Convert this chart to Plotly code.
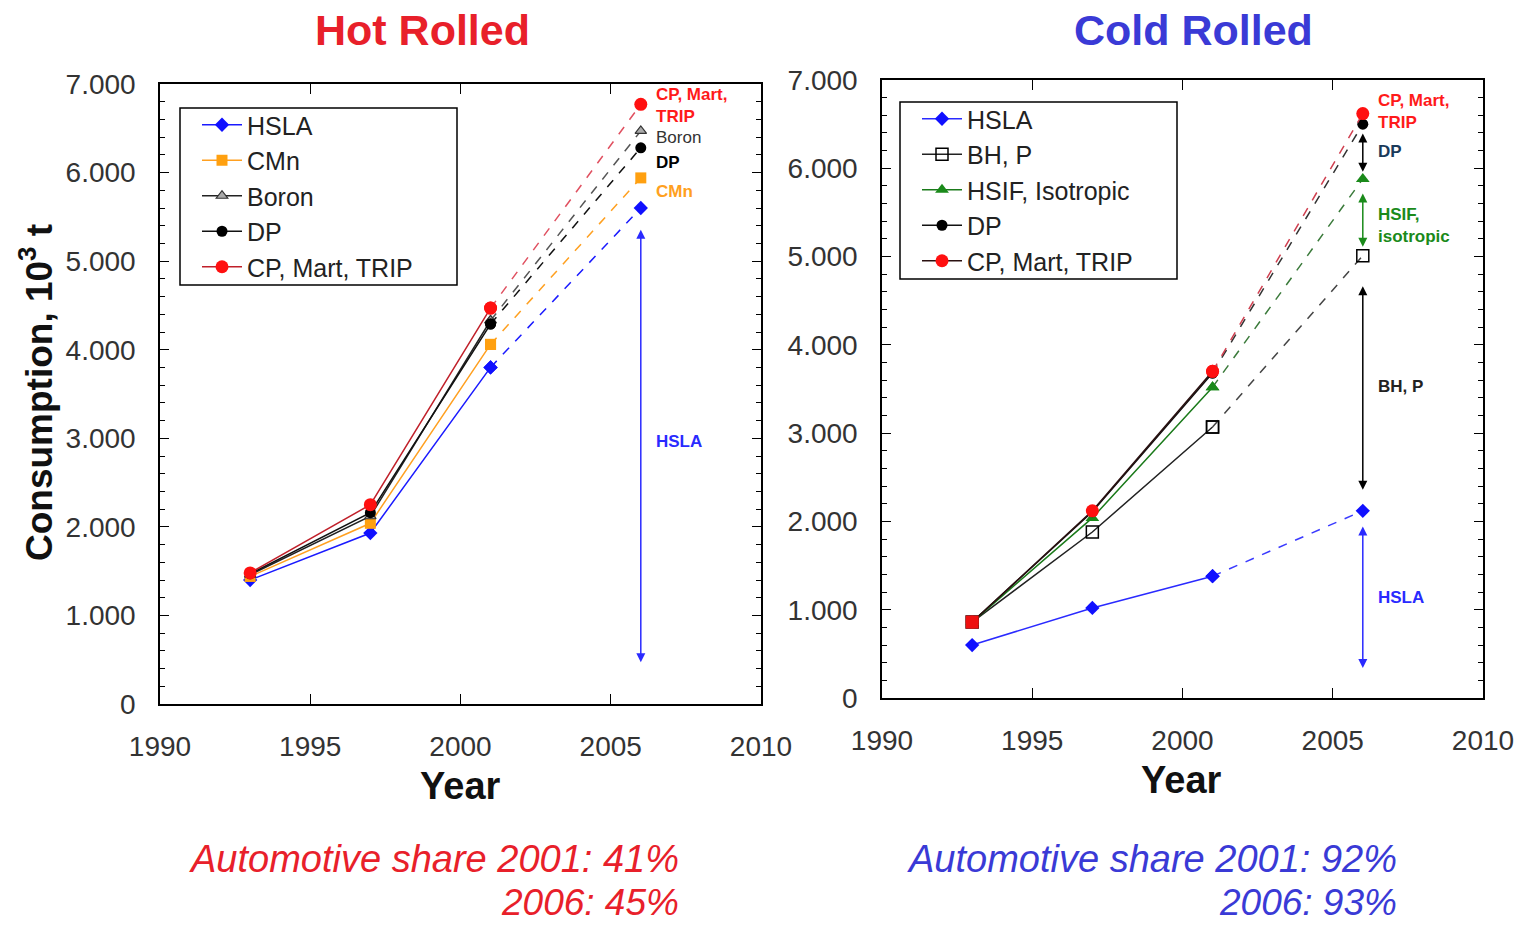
import plotly.graph_objects as go

# Consumption of high-strength steels, thousand tonnes
years = [1993, 1997, 2001, 2006]

hot_hsla = [1400, 1930, 3800, 5600]
hot_cmn = [1440, 2040, 4060, 5940]
hot_boron = [1460, 2120, 4330, 6470]
hot_dp = [1470, 2160, 4290, 6280]
hot_cp = [1480, 2250, 4470, 6770]

cold_hsla = [600, 1020, 1380, 2120]
cold_bhp = [860, 1880, 3070, 5010]
cold_hsif = [860, 2040, 3520, 5880]
cold_dp = [860, 2110, 3680, 6500]
cold_cp = [860, 2120, 3700, 6620]

y_ticks = [0, 1000, 2000, 3000, 4000, 5000, 6000, 7000]
y_tick_text = ["0", "1.000", "2.000", "3.000", "4.000", "5.000", "6.000", "7.000"]
x_ticks = [1990, 1995, 2000, 2005, 2010]

# growth ranges shown at 2006 (start, end)
hot_hsla_span = (5370, 470)
cold_dp_span = (6410, 5960)
cold_hsif_span = (5730, 5110)
cold_bhp_span = (4680, 2360)
cold_hsla_span = (1960, 340)

FONT = "Liberation Sans, Arial, sans-serif"
RED = "#e8202a"
BLUE = "#3a3ad6"
W, H = 1526, 925

fig = go.Figure()


def add_series(name, vals, xa, ya, legend, line_color, marker, dash_color=None):
    # measured part 1993-2001 as solid line, projection 2001-2006 dashed
    fig.add_trace(go.Scatter(
        x=years[:3], y=vals[:3], mode="lines+markers", name=name,
        xaxis=xa, yaxis=ya, legend=legend,
        line=dict(color=line_color, width=1.5), marker=marker,
    ))
    fig.add_trace(go.Scatter(
        x=years[2:], y=vals[2:], mode="lines+markers", name=name,
        xaxis=xa, yaxis=ya, showlegend=False,
        line=dict(color=dash_color or line_color, width=1.5, dash="dash"),
        marker=marker,
    ))


# Hot rolled
add_series("HSLA", hot_hsla, "x", "y", "legend", "#1a1aff",
           dict(symbol="diamond", size=11, color="#1010ff"))
add_series("CMn", hot_cmn, "x", "y", "legend", "#ffa020",
           dict(symbol="square", size=11, color="#ffa010"))
add_series("Boron", hot_boron, "x", "y", "legend", "#222222",
           dict(symbol="triangle-up", size=10, color="#aaaaaa", line=dict(color="#333333", width=1.2)),
           dash_color="#555555")
add_series("DP", hot_dp, "x", "y", "legend", "#111111",
           dict(symbol="circle", size=11, color="#000000"))
add_series("CP, Mart, TRIP", hot_cp, "x", "y", "legend", "#c0202a",
           dict(symbol="circle", size=13, color="#ff1010"), dash_color="#e05060")

# Cold rolled
add_series("HSLA", cold_hsla, "x2", "y2", "legend2", "#2a2aff",
           dict(symbol="diamond", size=11, color="#1010ff"), dash_color="#3a3aff")
add_series("BH, P", cold_bhp, "x2", "y2", "legend2", "#222222",
           dict(symbol="square-open", size=12, color="#000000", line=dict(width=1.5)),
           dash_color="#444444")
add_series("HSIF, Isotropic", cold_hsif, "x2", "y2", "legend2", "#1a7a1a",
           dict(symbol="triangle-up", size=12, color="#1a8a1a"), dash_color="#3a7a3a")
add_series("DP", cold_dp, "x2", "y2", "legend2", "#111111",
           dict(symbol="circle", size=11, color="#000000"), dash_color="#333333")
add_series("CP, Mart, TRIP", cold_cp, "x2", "y2", "legend2", "#2a1010",
           dict(symbol="circle", size=13, color="#ff1010"), dash_color="#d04050")
# the common 1993 starting point is plotted as a red square
fig.add_trace(go.Scatter(x=years[:1], y=cold_cp[:1], mode="markers", xaxis="x2", yaxis="y2",
                         showlegend=False, marker=dict(symbol="square", size=13, color="#ee1010")))

axis_common = dict(
    showline=True, linecolor="black", linewidth=1.5, mirror="allticks",
    ticks="inside", tickcolor="black", showgrid=False, zeroline=False, automargin=False,
    tickfont=dict(family=FONT, size=28, color="#333333"),
)

legend_common = dict(xanchor="left", yanchor="top",
                     font=dict(family=FONT, size=25, color="#222222"),
                     bgcolor="rgba(0,0,0,0)", borderwidth=0, tracegroupgap=0, itemwidth=40)

fig.update_layout(
    width=W, height=H,
    margin=dict(l=0, r=0, t=0, b=0, pad=0, autoexpand=False),
    paper_bgcolor="white", plot_bgcolor="white",
    font=dict(family=FONT),
    xaxis=dict(axis_common, domain=[160 / W, 761 / W], range=[1990, 2010],
               tickvals=x_ticks, ticklen=10, ticklabelstandoff=17, anchor="y"),
    yaxis=dict(axis_common, domain=[1 - 704 / H, 1 - 84 / H], range=[0, 7000],
               tickvals=y_ticks, ticktext=y_tick_text, ticklen=9, ticklabelstandoff=17,
               minor=dict(dtick=200, ticks="inside", ticklen=5, tickcolor="black"), anchor="x"),
    xaxis2=dict(axis_common, domain=[882 / W, 1483 / W], range=[1990, 2010],
                tickvals=x_ticks, ticklen=10, ticklabelstandoff=17, anchor="y2"),
    yaxis2=dict(axis_common, domain=[1 - 698 / H, 1 - 80 / H], range=[0, 7000],
                tickvals=y_ticks, ticktext=y_tick_text, ticklen=9, ticklabelstandoff=17,
                minor=dict(dtick=200, ticks="inside", ticklen=5, tickcolor="black"), anchor="x2"),
    legend=dict(legend_common, x=197 / W, y=1 - 102 / H),
    legend2=dict(legend_common, x=917 / W, y=1 - 96 / H),
)

# legend frames
fig.add_shape(type="rect", xref="paper", yref="paper",
              x0=180 / W, x1=457 / W, y0=1 - 285 / H, y1=1 - 108 / H,
              line=dict(color="black", width=1.5))
fig.add_shape(type="rect", xref="paper", yref="paper",
              x0=900 / W, x1=1177 / W, y0=1 - 279 / H, y1=1 - 102 / H,
              line=dict(color="black", width=1.5))


def span_arrow(xa, ya, span, color):
    fig.add_annotation(x=2006, y=span[1], ax=2006, ay=span[0], xref=xa, yref=ya,
                       axref=xa, ayref=ya, text="", showarrow=True,
                       arrowhead=2, startarrowhead=2, arrowside="end+start",
                       arrowsize=1.2, startarrowsize=1.2, arrowwidth=1.5, arrowcolor=color)


def label(xa, ya, y, text, color, bold=True):
    fig.add_annotation(x=2006.45, y=y, xref=xa, yref=ya, text=f"<b>{text}</b>" if bold else text,
                       showarrow=False, xanchor="left", yanchor="middle", align="left",
                       font=dict(family=FONT, size=17, color=color))


span_arrow("x", "y", hot_hsla_span, "#2a2aff")
label("x", "y", 6760, "CP, Mart,<br>TRIP", "#ff1a1a")
label("x", "y", 6400, "Boron", "#333333", bold=False)
label("x", "y", 6110, "DP", "#000000")
label("x", "y", 5790, "CMn", "#ffa020")
label("x", "y", 2960, "HSLA", "#2a2aff")

span_arrow("x2", "y2", cold_dp_span, "#000000")
span_arrow("x2", "y2", cold_hsif_span, "#1a8a1a")
span_arrow("x2", "y2", cold_bhp_span, "#000000")
span_arrow("x2", "y2", cold_hsla_span, "#2a2aff")
label("x2", "y2", 6640, "CP, Mart,<br>TRIP", "#ff1a1a")
label("x2", "y2", 6190, "DP", "#1a3a5a")
label("x2", "y2", 5350, "HSIF,<br>isotropic", "#1a8a1a")
label("x2", "y2", 3530, "BH, P", "#222222")
label("x2", "y2", 1140, "HSLA", "#2a2aff")


def page_text(px, py, text, size, color, xanchor="center", **kw):
    fig.add_annotation(x=px / W, y=1 - py / H, xref="paper", yref="paper", text=text,
                       showarrow=False, xanchor=xanchor, yanchor="middle",
                       font=dict(family=FONT, size=size, color=color), **kw)


# titles and axis titles
page_text(422, 30, "<b>Hot Rolled</b>", 43, RED)
page_text(1193, 30, "<b>Cold Rolled</b>", 43, BLUE)
page_text(460, 786, "<b>Year</b>", 38, "#111111")
page_text(1181, 780, "<b>Year</b>", 38, "#111111")
page_text(36, 393, "<b>Consumption, 10<sup>3</sup> t</b>", 37, "#111111", textangle=-90)

# automotive share notes
page_text(681, 859, "<i>Automotive share 2001: 41%</i>", 38, RED, xanchor="right")
page_text(681, 902, "<i>2006: 45%</i>", 37, RED, xanchor="right")
page_text(1399, 859, "<i>Automotive share 2001: 92%</i>", 38, BLUE, xanchor="right")
page_text(1399, 902, "<i>2006: 93%</i>", 37, BLUE, xanchor="right")

fig.write_html("out.html")
